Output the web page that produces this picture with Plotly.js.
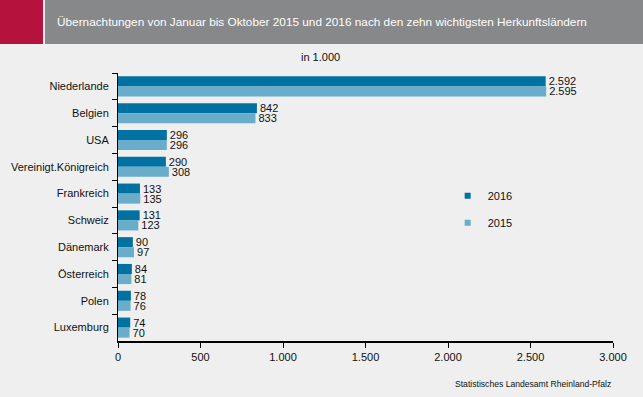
<!DOCTYPE html>
<html><head><meta charset="utf-8">
<script src="https://cdn.plot.ly/plotly-3.0.1.min.js"></script>
<style>html,body{margin:0;padding:0;background:#eeefee;}#chart{width:643px;height:397px;}</style>
</head><body><div id="chart"></div>
<script>
const countries = ["Niederlande","Belgien","USA","Vereinigt.Königreich","Frankreich","Schweiz","Dänemark","Österreich","Polen","Luxemburg"];
const values2016 = [2592, 842, 296, 290, 133, 131, 90, 84, 78, 74];
const values2015 = [2595, 833, 296, 308, 135, 123, 97, 81, 76, 70];
const xTicks = [0, 500, 1000, 1500, 2000, 2500, 3000];

const c2016 = "#0071a1";
const c2015 = "#69adcb";
const font = "Liberation Sans, Arial, sans-serif";

const traces = [
  {type:"bar", orientation:"h", name:"2016", y:countries, x:values2016, marker:{color:c2016},
   text:values2016, texttemplate:"%{x:,}", textposition:"outside", cliponaxis:false, constraintext:"none",
   textfont:{size:11,color:"#111",family:font}, showlegend:false, hoverinfo:"none"},
  {type:"bar", orientation:"h", name:"2015", y:countries, x:values2015, marker:{color:c2015},
   text:values2015, texttemplate:"%{x:,}", textposition:"outside", cliponaxis:false, constraintext:"none",
   textfont:{size:11,color:"#111",family:font}, showlegend:false, hoverinfo:"none"},
  {type:"scatter", mode:"markers", name:"2016", x:[null], y:[null], legendgroup:"a",
   marker:{symbol:"square", size:6, color:c2016}},
  {type:"scatter", mode:"markers", name:"2015", x:[null], y:[null], legendgroup:"b",
   marker:{symbol:"square", size:6, color:c2015}}
];

const layout = {
  width:643, height:397,
  paper_bgcolor:"#eeefee", plot_bgcolor:"#eeefee",
  separators:",.",
  font:{family:font, size:11, color:"#111"},
  margin:{l:118, r:30, t:73, b:56},
  barmode:"group", bargap:0.25, bargroupgap:0,
  showlegend:true,
  legend:{x:0.666, y:0.492, xanchor:"left", yanchor:"middle", bgcolor:"rgba(0,0,0,0)",
    font:{size:11, family:font, color:"#111"}, tracegroupgap:8, itemwidth:30, traceorder:"grouped"},
  xaxis:{range:[0,3000], tickvals:xTicks, tickformat:",d", showgrid:false, zeroline:false,
    showline:true, linecolor:"#000", linewidth:2, ticks:"outside", ticklen:5, tickcolor:"#000", tickwidth:1,
    tickfont:{size:11}, fixedrange:true},
  yaxis:{autorange:"reversed", showgrid:false, zeroline:false, showline:true, linecolor:"#000", linewidth:1,
    ticks:"outside", tickson:"boundaries", ticklen:5, tickcolor:"#000", tickfont:{size:11}, ticklabelstandoff:6},
  shapes:[
    {type:"rect", xref:"paper", yref:"paper", xsizemode:"pixel", ysizemode:"pixel",
     xanchor:0, yanchor:1, x0:-118, x1:-75, y0:73, y1:29, fillcolor:"#b5123e", line:{width:0}, layer:"above"},
    {type:"rect", xref:"paper", yref:"paper", xsizemode:"pixel", ysizemode:"pixel",
     xanchor:0, yanchor:1, x0:-73, x1:525, y0:73, y1:29, fillcolor:"#878889", line:{width:0}, layer:"above"}
  ],
  annotations:[
    {text:"Übernachtungen von Januar bis Oktober 2015 und 2016 nach den zehn wichtigsten Herkunftsländern",
     xref:"paper", yref:"paper", x:-0.1233, y:1, xshift:-2, yshift:51, xanchor:"left", yanchor:"middle",
     showarrow:false, font:{size:11.8, color:"#fff", family:font}},
    {text:"in 1.000", xref:"paper", yref:"paper", x:0.41, y:1, yshift:16, xanchor:"center", yanchor:"middle",
     showarrow:false, font:{size:11, color:"#111"}},
    {text:"Statistisches Landesamt Rheinland-Pfalz", xref:"paper", yref:"paper", x:1.0, y:0, yshift:-43,
     xanchor:"right", yanchor:"middle", showarrow:false, font:{size:8.6, color:"#111"}}
  ]
};

Plotly.newPlot("chart", traces, layout, {displayModeBar:false, staticPlot:true});
</script></body></html>
